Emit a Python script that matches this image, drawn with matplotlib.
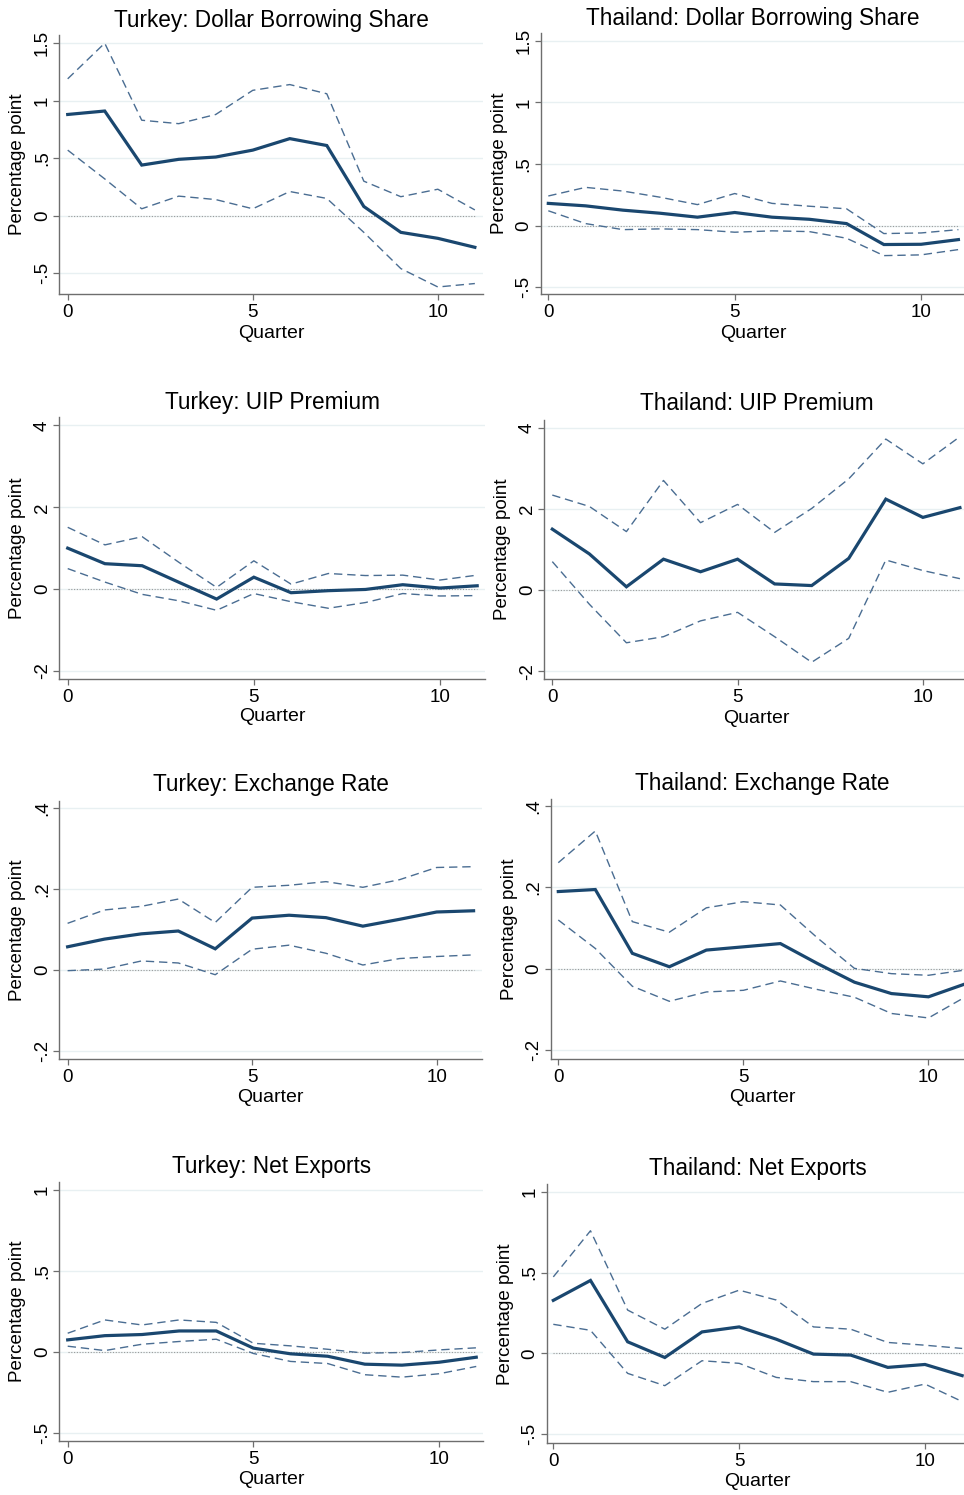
import matplotlib
matplotlib.use("Agg")
import matplotlib.pyplot as plt
import numpy as np

plt.rcParams['font.family'] = ['Liberation Sans', 'DejaVu Sans']

quarters = np.arange(12)

# point estimates and 90% bands
tr_dollar = [0.88, 0.91, 0.44, 0.49, 0.51, 0.57, 0.67, 0.61, 0.08, -0.145, -0.197, -0.275]
tr_dollar_hi = [1.19, 1.50, 0.83, 0.80, 0.88, 1.09, 1.14, 1.06, 0.30, 0.165, 0.23, 0.05]
tr_dollar_lo = [0.57, 0.32, 0.06, 0.17, 0.14, 0.06, 0.21, 0.15, -0.145, -0.46, -0.62, -0.59]

th_dollar = [0.18, 0.16, 0.125, 0.10, 0.068, 0.106, 0.068, 0.051, 0.016, -0.154, -0.152, -0.114]
th_dollar_hi = [0.24, 0.31, 0.28, 0.23, 0.17, 0.26, 0.18, 0.157, 0.136, -0.065, -0.06, -0.033]
th_dollar_lo = [0.12, 0.016, -0.033, -0.027, -0.033, -0.054, -0.043, -0.049, -0.103, -0.244, -0.238, -0.195]

tr_uip = [1.0, 0.62, 0.57, 0.16, -0.245, 0.29, -0.09, -0.04, -0.01, 0.106, 0.024, 0.08]
tr_uip_hi = [1.51, 1.08, 1.28, 0.645, 0.04, 0.69, 0.12, 0.38, 0.33, 0.34, 0.22, 0.34]
tr_uip_lo = [0.50, 0.17, -0.13, -0.29, -0.52, -0.11, -0.31, -0.47, -0.33, -0.11, -0.17, -0.16]

th_uip = [1.50, 0.89, 0.08, 0.76, 0.45, 0.76, 0.15, 0.11, 0.78, 2.24, 1.79, 2.03]
th_uip_hi = [2.34, 2.06, 1.44, 2.70, 1.66, 2.11, 1.42, 2.01, 2.74, 3.72, 3.11, 3.78]
th_uip_lo = [0.70, -0.35, -1.30, -1.15, -0.76, -0.55, -1.15, -1.78, -1.19, 0.74, 0.48, 0.28]

tr_fx = [0.057, 0.076, 0.089, 0.096, 0.052, 0.128, 0.135, 0.129, 0.108, 0.125, 0.143, 0.146]
tr_fx_hi = [0.115, 0.148, 0.157, 0.175, 0.117, 0.204, 0.209, 0.218, 0.204, 0.223, 0.253, 0.255]
tr_fx_lo = [-0.002, 0.002, 0.022, 0.017, -0.012, 0.051, 0.061, 0.041, 0.012, 0.028, 0.033, 0.037]

th_fx = [0.19, 0.195, 0.038, 0.005, 0.046, 0.054, 0.062, 0.013, -0.033, -0.061, -0.069, -0.037]
th_fx_hi = [0.261, 0.339, 0.116, 0.09, 0.15, 0.165, 0.157, 0.076, 0.001, -0.012, -0.016, -0.003]
th_fx_lo = [0.12, 0.05, -0.043, -0.08, -0.057, -0.053, -0.03, -0.051, -0.07, -0.11, -0.121, -0.069]

tr_nx = [0.074, 0.10, 0.107, 0.129, 0.129, 0.023, -0.012, -0.027, -0.076, -0.082, -0.064, -0.033]
tr_nx_hi = [0.115, 0.197, 0.166, 0.197, 0.182, 0.053, 0.037, 0.016, -0.008, -0.004, 0.012, 0.025]
tr_nx_lo = [0.035, 0.008, 0.047, 0.064, 0.078, -0.01, -0.059, -0.072, -0.141, -0.156, -0.135, -0.09]

th_nx = [0.328, 0.451, 0.072, -0.025, 0.133, 0.164, 0.088, -0.004, -0.01, -0.086, -0.068, -0.137]
th_nx_hi = [0.473, 0.758, 0.268, 0.15, 0.309, 0.391, 0.33, 0.164, 0.15, 0.068, 0.051, 0.031]
th_nx_lo = [0.18, 0.143, -0.123, -0.199, -0.045, -0.061, -0.148, -0.174, -0.174, -0.24, -0.189, -0.297]

titles = ["Turkey: Dollar Borrowing Share", "Thailand: Dollar Borrowing Share",
          "Turkey: UIP Premium", "Thailand: UIP Premium",
          "Turkey: Exchange Rate", "Thailand: Exchange Rate",
          "Turkey: Net Exports", "Thailand: Net Exports"]
series = [(tr_dollar, tr_dollar_lo, tr_dollar_hi), (th_dollar, th_dollar_lo, th_dollar_hi),
          (tr_uip, tr_uip_lo, tr_uip_hi), (th_uip, th_uip_lo, th_uip_hi),
          (tr_fx, tr_fx_lo, tr_fx_hi), (th_fx, th_fx_lo, th_fx_hi),
          (tr_nx, tr_nx_lo, tr_nx_hi), (th_nx, th_nx_lo, th_nx_hi)]
yticks = [[-0.5, 0, 0.5, 1, 1.5], [-0.5, 0, 0.5, 1, 1.5],
          [-2, 0, 2, 4], [-2, 0, 2, 4],
          [-0.2, 0, 0.2, 0.4], [-0.2, 0, 0.2, 0.4],
          [-0.5, 0, 0.5, 1], [-0.5, 0, 0.5, 1]]
ytick_labels = [["-.5", "0", ".5", "1", "1.5"], ["-.5", "0", ".5", "1", "1.5"],
                ["-2", "0", "2", "4"], ["-2", "0", "2", "4"],
                ["-.2", "0", ".2", ".4"], ["-.2", "0", ".2", ".4"],
                ["-.5", "0", ".5", "1"], ["-.5", "0", ".5", "1"]]

# layout in pixels: axes (left, right, top, bottom), xlim, ylim, title and xlabel centres
W, H = 964, 1495
boxes = [(59.3, 483, 35, 294), (540.7, 964, 33, 294.3),
         (59.3, 485, 417.3, 679), (544.3, 964, 420, 679.3),
         (59.3, 481.7, 800.7, 1059.3), (550.7, 964, 799.3, 1059),
         (59.3, 483.3, 1181.7, 1441), (546.7, 964, 1184.3, 1443.3)]
xlims = [(-0.227, 11.22), (-0.204, 11.15), (-0.226, 11.21), (-0.216, 11.11),
         (-0.225, 11.22), (-0.205, 10.96), (-0.226, 11.19), (-0.178, 11.05)]
ylims = [(-0.681, 1.571), (-0.558, 1.563), (-2.2, 4.2), (-2.2, 4.19),
         (-0.221, 0.418), (-0.222, 0.417), (-0.55, 1.05), (-0.555, 1.045)]
title_pos = [(271, 20), (753, 18), (272.5, 402.7), (756.7, 404),
             (270.5, 785), (762, 784), (271.7, 1166.7), (758, 1168.3)]
xlabel_pos = [(271, 333), (753, 333), (272.5, 717), (756, 718),
              (270.8, 1098), (762.5, 1097.7), (271, 1480), (757.5, 1482)]

main_color = '#1a476f'
band_color = '#4a6d92'
axis_color = '#6e6e6e'

fig = plt.figure(figsize=(W / 100, H / 100), dpi=100)

for i in range(8):
    l, r, t, b = boxes[i]
    ax = fig.add_axes([l / W, 1 - b / H, (r - l) / W, (b - t) / H])
    est, lo, hi = series[i]

    for yv in yticks[i]:
        ax.axhline(yv, color='#e8f0f2', lw=1.0, zorder=0)
    ax.plot([quarters[0], quarters[-1]], [0, 0], color='#9a9a9a', lw=0.8,
            linestyle=(0, (1, 1.5)), zorder=1)
    ax.plot(quarters, hi, color=band_color, lw=1.0, dashes=(6, 3.5), zorder=2)
    ax.plot(quarters, lo, color=band_color, lw=1.0, dashes=(6, 3.5), zorder=2)
    ax.plot(quarters, est, color=main_color, lw=2.3, zorder=3, solid_joinstyle='miter')

    ax.set_xlim(*xlims[i])
    ax.set_ylim(*ylims[i])
    ax.set_xticks([0, 5, 10])
    ax.set_xticklabels(["0", "5", "10"])
    ax.set_yticks(yticks[i])
    ax.set_yticklabels(ytick_labels[i], rotation=90, va='center')

    for side in ['top', 'right']:
        ax.spines[side].set_visible(False)
    for side in ['left', 'bottom']:
        ax.spines[side].set_color(axis_color)
        ax.spines[side].set_linewidth(1.0)
    ax.tick_params(axis='both', direction='out', length=4, width=0.9,
                   color=axis_color, labelsize=13.5, labelcolor='black')
    ax.tick_params(axis='x', pad=3)
    ax.tick_params(axis='y', pad=2)
    ax.set_ylabel("Percentage point", fontsize=13.5)
    ax.yaxis.set_label_coords(-33 / (r - l), 0.5)

    tx, ty = title_pos[i]
    fig.text(tx / W, 1 - ty / H, titles[i], fontsize=16.3, ha='center', va='center')
    qx, qy = xlabel_pos[i]
    fig.text(qx / W, 1 - qy / H, "Quarter", fontsize=14, ha='center', va='center')

fig.savefig("out.png", dpi=100, facecolor='white')
